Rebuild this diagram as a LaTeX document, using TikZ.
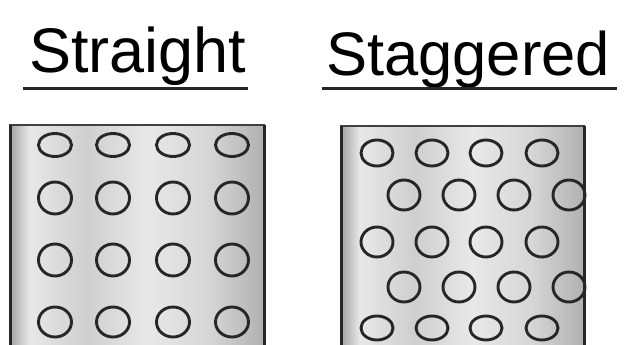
\documentclass[tikz,border=0pt]{standalone}
\usepackage{fontspec}
\setmainfont{Liberation Sans}
\pgfdeclarehorizontalshading{tube}{100bp}{color(0bp)=(gray!75); color(25bp)=(gray!75); color(29bp)=(gray!18); color(40bp)=(gray!38); color(52bp)=(gray!18); color(64bp)=(gray!32); color(75bp)=(gray!62); color(100bp)=(gray!62)}
\definecolor{ink}{HTML}{262626}
\tikzset{
  hole/.style={draw=ink, line width=2.9pt},
  title/.style={anchor=base west, inner sep=0pt, text=black},
  rule/.style={line width=3pt, draw=black!85},
  wall/.style={draw=black!85, line width=3pt},
  lid/.style={draw=black!75, line width=1.6pt},
}
\begin{document}
\begin{tikzpicture}[x=1pt,y=-1pt]
\useasboundingbox[fill=white] (0,0) rectangle (624,345);
% titles
\node[title, font=\fontsize{63}{63}\selectfont] (straight) at (29,73) {Straight};
\node[title, font=\fontsize{61.5}{61.5}\selectfont] (staggered) at (326,75) {Staggered};
\draw[rule] (23,89) -- (248,89);
\draw[rule] (322,89) -- (617,89);
% left box
\shade[shading=tube] (9,125) rectangle (265,345);
\draw[lid] (9,125) -- (265,125);
\draw[wall] (10,125) -- (10,345);
\draw[wall] (264,125) -- (264,345);
\foreach \x in {55,113,173,232}{
  \draw[hole] (\x,145) ellipse (16.5 and 11.5);
  \draw[hole] (\x,198) ellipse (16.5 and 16);
  \draw[hole] (\x,260) ellipse (16.5 and 16);
  \draw[hole] (\x,322) ellipse (16.5 and 15);
}
% right box
\shade[shading=tube] (340,126) rectangle (585,345);
\draw[lid] (340,126) -- (585,126);
\draw[wall] (341,126) -- (341,345);
\draw[wall] (584,126) -- (584,345);
\foreach \x in {377,432,486,542}{
  \draw[hole] (\x,153) ellipse (16 and 13);
  \draw[hole] (\x,242) ellipse (16 and 15);
  \draw[hole] (\x,328) ellipse (16 and 12);
}
\foreach \x in {404,459,514,569}{
  \draw[hole] (\x,195) ellipse (16 and 15);
  \draw[hole] (\x,287) ellipse (16 and 15);
}
\end{tikzpicture}
\end{document}
